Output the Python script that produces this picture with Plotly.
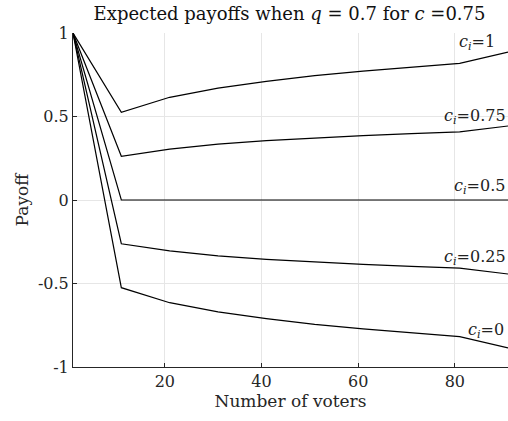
import plotly.graph_objects as go

voters = [1, 11, 21, 31, 41, 51, 61, 71, 81, 91]
pay_c1 = [1, 0.525, 0.615, 0.67, 0.71, 0.745, 0.772, 0.797, 0.818, 0.886]
pay_c075 = [1, 0.262, 0.305, 0.335, 0.355, 0.372, 0.385, 0.397, 0.408, 0.443]
pay_c05 = [1, 0, 0, 0, 0, 0, 0, 0, 0, 0]
pay_c025 = [1, -0.262, -0.305, -0.335, -0.355, -0.372, -0.385, -0.397, -0.408, -0.443]
pay_c0 = [1, -0.525, -0.615, -0.67, -0.71, -0.745, -0.772, -0.797, -0.818, -0.886]

series = [pay_c1, pay_c075, pay_c05, pay_c025, pay_c0]
labels = ["1", "0.75", "0.5", "0.25", "0"]
label_x = [88.8, 91, 90.8, 91, 90.5]
label_y = [0.945, 0.50, 0.08, -0.345, -0.78]

xticks = [20, 40, 60, 80]
yticks = [-1, -0.5, 0, 0.5, 1]
yticktext = ["-1", "-0.5", "0", "0.5", "1"]

font = "DejaVu Serif"

fig = go.Figure()
for s in series:
    fig.add_trace(go.Scatter(x=voters, y=s, mode="lines",
                             line=dict(color="black", width=1.2),
                             showlegend=False, hoverinfo="skip"))

for lab, lx, ly in zip(labels, label_x, label_y):
    fig.add_annotation(x=lx, y=ly, xref="x", yref="y",
                       text="<i>c</i><sub><i>i</i></sub>=" + lab,
                       showarrow=False, xanchor="right", yanchor="middle",
                       font=dict(family=font, size=16, color="#222"))

fig.update_layout(
    width=508, height=421,
    margin=dict(l=73, r=0, t=33, b=54),
    paper_bgcolor="white", plot_bgcolor="white",
    title=dict(text="Expected payoffs when <i>q</i> = 0.7 for <i>c</i> =0.75",
               x=0.57, xanchor="center", y=0.982, yanchor="top",
               font=dict(family=font, size=18, color="#111")),
    font=dict(family=font, size=16, color="#262626"),
    xaxis=dict(range=[1, 91], tickvals=xticks, showgrid=True,
               gridcolor="#e6e6e6", gridwidth=1, zeroline=False,
               showline=True, linecolor="#262626", linewidth=1,
               ticks="inside", ticklen=4, tickcolor="#262626",
               title=dict(text="Number of voters", standoff=2,
                          font=dict(family=font, size=17))),
    yaxis=dict(range=[-1, 1], tickvals=yticks, ticktext=yticktext,
               showgrid=True, gridcolor="#e6e6e6", gridwidth=1,
               zeroline=False, showline=True, linecolor="#262626",
               linewidth=1, ticks="inside", ticklen=4, tickcolor="#262626",
               title=dict(text="Payoff", standoff=4,
                          font=dict(family=font, size=17))),
)

fig.write_html("out.html", config={"displayModeBar": False},
               post_script="document.body.style.margin='0px';")
